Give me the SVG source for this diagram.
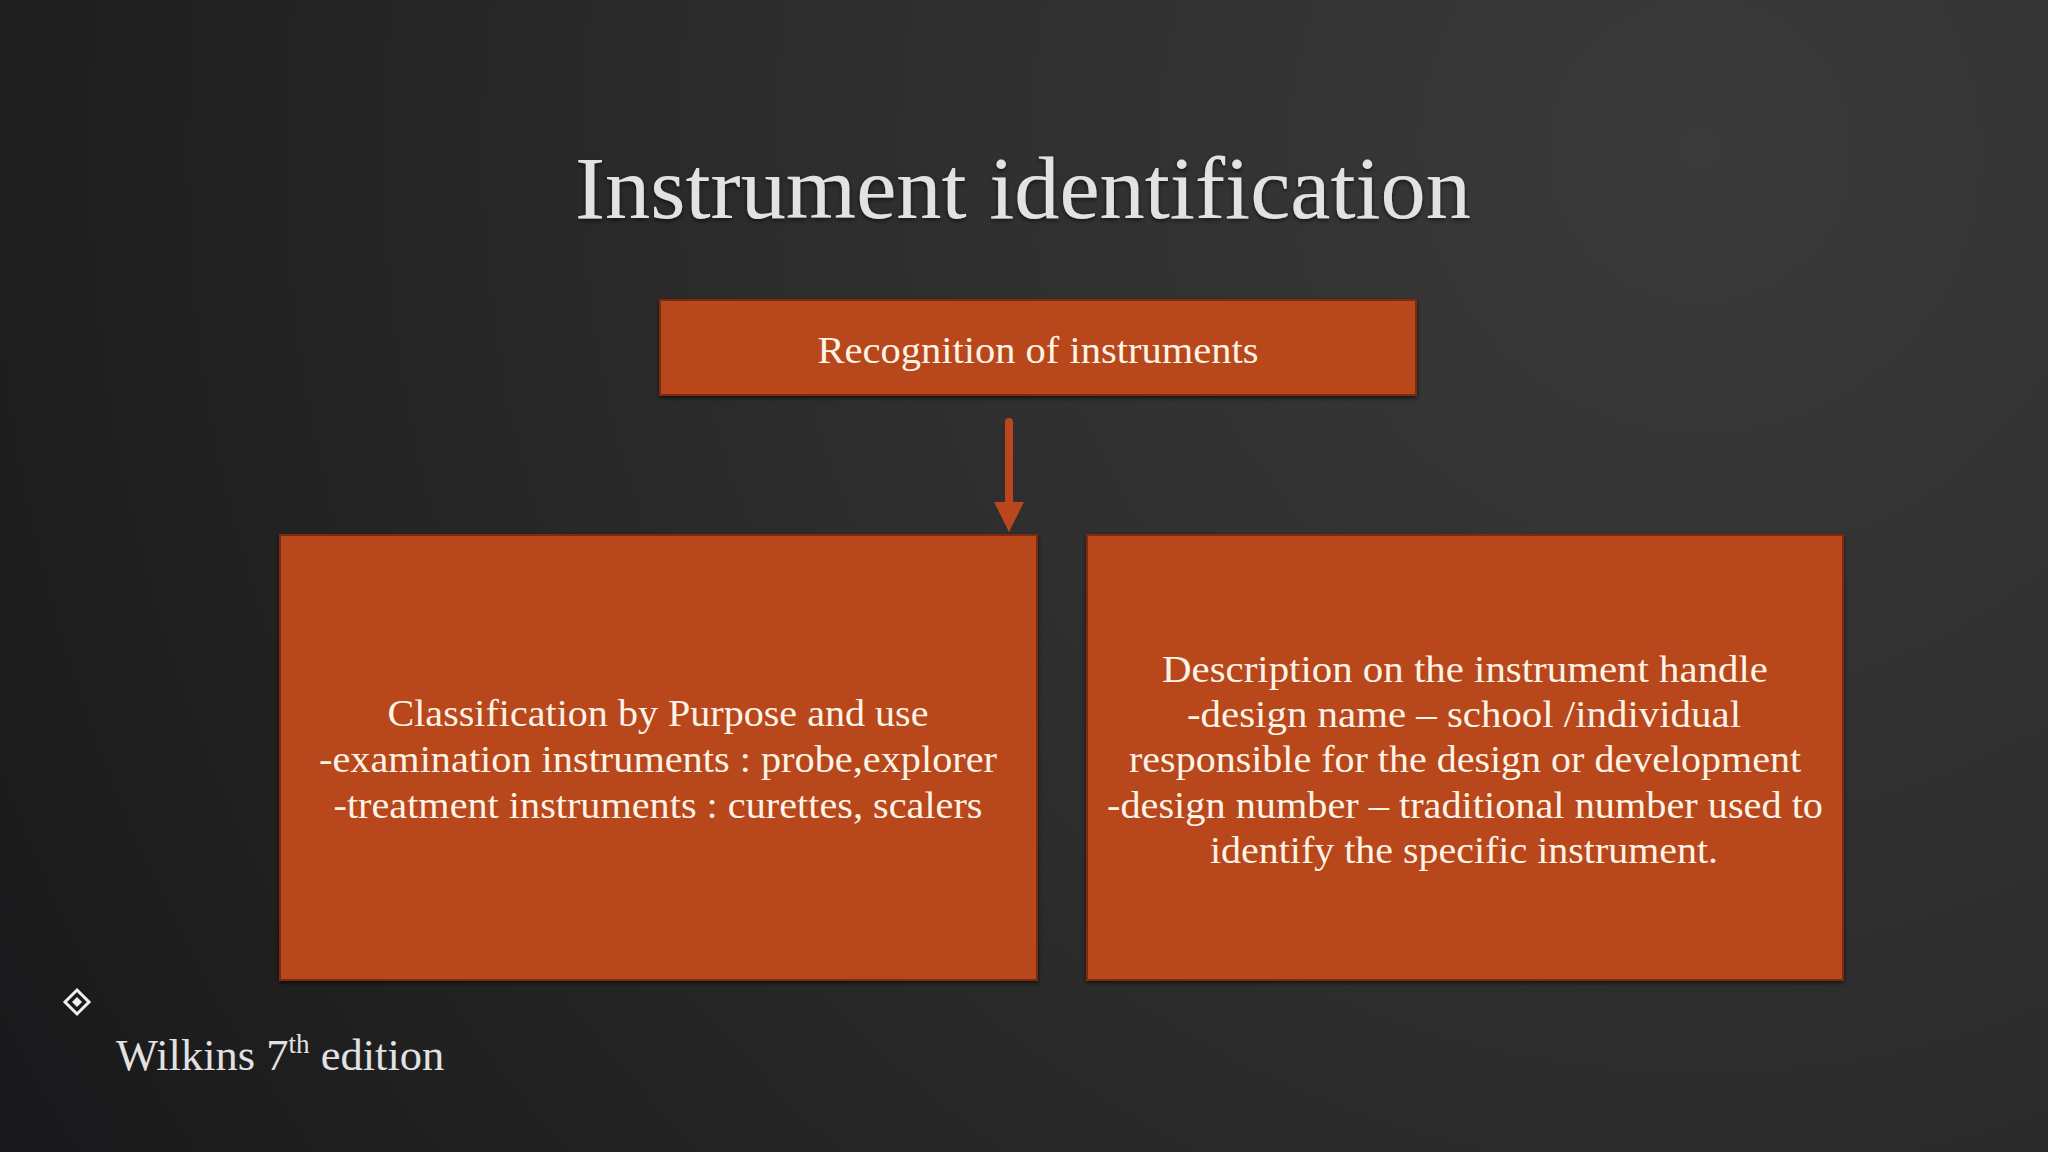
<svg xmlns="http://www.w3.org/2000/svg" width="2048" height="1152" viewBox="0 0 2048 1152">
  <defs>
    <radialGradient id="bg" cx="1700" cy="150" r="2000" gradientUnits="userSpaceOnUse">
      <stop offset="0" stop-color="#3a3a3a"/>
      <stop offset="0.45" stop-color="#2d2d2d"/>
      <stop offset="1" stop-color="#18181a"/>
    </radialGradient>
    <filter id="shadow" x="-10%" y="-10%" width="120%" height="130%">
      <feDropShadow dx="0" dy="2" stdDeviation="2" flood-color="#000" flood-opacity="0.6"/>
    </filter>
  </defs>
  <style>
    .box { fill: #b9461d; stroke: #7e2a10; stroke-width: 2; }
    .boxtext { font-family: "Liberation Serif", serif; font-size: 37px; fill: #fdf3e6; text-anchor: middle; }
    .title { font-family: "Liberation Serif", serif; font-size: 88px; fill: #e2e2e2; text-anchor: middle; }
    .foot { font-family: "Liberation Serif", serif; font-size: 44.5px; fill: #e2e2e2; }
    .arrow { fill: #b9461d; stroke: #b9461d; }
  </style>
  <rect x="0" y="0" width="2048" height="1152" fill="url(#bg)"/>

  <text class="title" x="1023" y="218" textLength="896" lengthAdjust="spacingAndGlyphs" filter="url(#shadow)">Instrument identification</text>

  <g id="connectors">
    <line class="arrow" x1="1009" y1="422" x2="1009" y2="504" stroke-width="8" stroke-linecap="round"/>
    <path class="arrow" d="M994,502 L1024,502 L1009,532 Z" stroke-width="0"/>
  </g>

  <g id="node-recognition">
    <rect class="box" x="660" y="300" width="756" height="95" filter="url(#shadow)"/>
    <text class="boxtext" x="1038" y="363" textLength="441" lengthAdjust="spacingAndGlyphs">Recognition of instruments</text>
  </g>

  <g id="node-classification">
    <rect class="box" x="280" y="535" width="757" height="445" filter="url(#shadow)"/>
    <text class="boxtext" x="658" y="726" textLength="541" lengthAdjust="spacingAndGlyphs">Classification by Purpose and use</text>
    <text class="boxtext" x="658" y="772" textLength="678" lengthAdjust="spacingAndGlyphs">-examination instruments : probe,explorer</text>
    <text class="boxtext" x="658" y="818" textLength="649" lengthAdjust="spacingAndGlyphs">-treatment instruments : curettes, scalers</text>
  </g>

  <g id="node-description">
    <rect class="box" x="1087" y="535" width="756" height="445" filter="url(#shadow)"/>
    <text class="boxtext" x="1465" y="682" textLength="606" lengthAdjust="spacingAndGlyphs">Description on the instrument handle</text>
    <text class="boxtext" x="1464" y="727" textLength="554" lengthAdjust="spacingAndGlyphs">-design name – school /individual</text>
    <text class="boxtext" x="1465" y="772" textLength="672" lengthAdjust="spacingAndGlyphs">responsible for the design or development</text>
    <text class="boxtext" x="1465" y="818" textLength="716" lengthAdjust="spacingAndGlyphs">-design number – traditional number used to</text>
    <text class="boxtext" x="1464" y="863" textLength="508" lengthAdjust="spacingAndGlyphs">identify the specific instrument.</text>
  </g>

  <g id="footnote">
    <path d="M77,990 L89,1002 L77,1014 L65,1002 Z" fill="none" stroke="#f0f0f0" stroke-width="3"/>
    <path d="M77,997 L82,1002 L77,1007 L72,1002 Z" fill="#f0f0f0"/>
    <text class="foot" x="116" y="1070">Wilkins 7<tspan font-size="27" dy="-17">th</tspan><tspan dy="17"> edition</tspan></text>
  </g>
</svg>
